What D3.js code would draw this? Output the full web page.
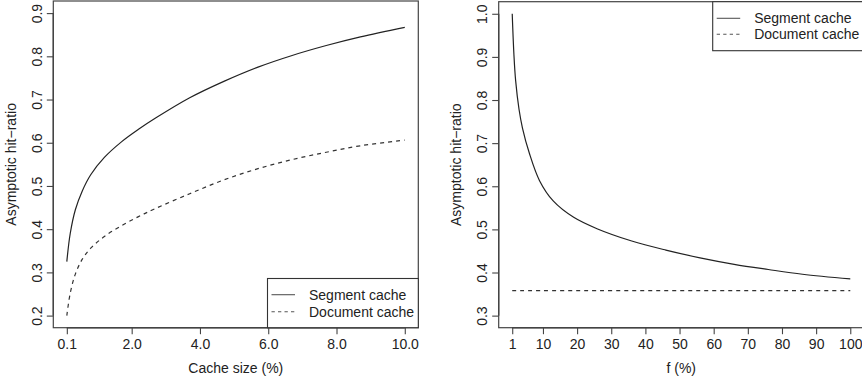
<!DOCTYPE html>
<html>
<head>
<meta charset="utf-8">
<script src="https://cdn.jsdelivr.net/npm/d3@7/dist/d3.min.js"></script>
<style>
  html, body { margin: 0; padding: 0; background: #fff; }
  svg { display: block; }
  text { font-family: "Liberation Sans", Arial, sans-serif; fill: #222; }
</style>
</head>
<body>
<svg id="chart" width="862" height="384"></svg>
<script>
// ---------- data ----------
const leftX        = [0.1, 0.2, 0.35, 0.55, 0.8, 1.2, 1.7, 2.2, 2.7, 3.7, 4.7, 5.7, 6.7, 7.7, 8.7, 10.0];
const leftSegment  = [0.325, 0.390, 0.445, 0.488, 0.526, 0.566, 0.602, 0.631, 0.657, 0.704, 0.742, 0.775, 0.802, 0.825, 0.845, 0.867];
const leftDocument = [0.200, 0.252, 0.296, 0.330, 0.356, 0.383, 0.408, 0.429, 0.448, 0.482, 0.514, 0.540, 0.561, 0.578, 0.593, 0.606];

const rightF        = [1, 1.5, 2, 3, 4, 6, 9, 13, 19, 26, 36, 46, 56, 66, 76, 86, 100];
const rightSegment  = [1.0, 0.905, 0.845, 0.778, 0.735, 0.677, 0.613, 0.566, 0.528, 0.501, 0.473, 0.452, 0.434, 0.419, 0.407, 0.396, 0.385];
const rightDocument = [0.358, 0.358, 0.358, 0.358, 0.358, 0.358, 0.358, 0.358, 0.358, 0.358, 0.358, 0.358, 0.358, 0.358, 0.358, 0.358, 0.358];

const leftXTicks   = [0.1, 2, 4, 6, 8, 10];
const leftXLabels  = ["0.1", "2.0", "4.0", "6.0", "8.0", "10.0"];
const leftYTicks   = [0.2, 0.3, 0.4, 0.5, 0.6, 0.7, 0.8, 0.9];
const rightXTicks  = [1, 10, 20, 30, 40, 50, 60, 70, 80, 90, 100];
const rightYTicks  = [0.3, 0.4, 0.5, 0.6, 0.7, 0.8, 0.9, 1.0];

const seriesNames  = ["Segment cache", "Document cache"];
const yTitle       = "Asymptotic hit\u2212ratio";
const leftXTitle   = "Cache size (%)";
const rightXTitle  = "f (%)";

// ---------- drawing ----------
const svg = d3.select("#chart");
svg.append("rect").attr("width", 862).attr("height", 384).attr("fill", "#fff");

function pad(lo, hi) { const p = (hi - lo) * 0.04; return [lo - p, hi + p]; }

function panel(opt) {
  const g = svg.append("g");
  const x = d3.scaleLinear().domain(pad(opt.xlim[0], opt.xlim[1])).range([opt.left, opt.right]);
  const y = d3.scaleLinear().domain(pad(opt.ylim[0], opt.ylim[1])).range([opt.bottom, opt.top]);

  const line = d3.line().x(d => x(d[0])).y(d => y(d[1])).curve(d3.curveCatmullRom.alpha(0.5));

  // curves
  g.append("path")
    .datum(opt.xs.map((v, i) => [v, opt.seg[i]]))
    .attr("d", line).attr("fill", "none")
    .attr("stroke", "#222").attr("stroke-width", 1.2);
  g.append("path")
    .datum(opt.xs.map((v, i) => [v, opt.doc[i]]))
    .attr("d", line).attr("fill", "none")
    .attr("stroke", "#333").attr("stroke-width", 1.2)
    .attr("stroke-dasharray", "4,4");

  // box
  g.append("rect")
    .attr("x", opt.left).attr("y", opt.top)
    .attr("width", opt.right - opt.left).attr("height", opt.bottom - opt.top)
    .attr("fill", "none").attr("stroke", "#444").attr("stroke-width", 1.2);

  // x axis
  const xa = g.append("g").attr("transform", `translate(0,${opt.bottom})`)
    .call(d3.axisBottom(x).tickValues(opt.xTicks).tickSize(6.5).tickSizeOuter(0)
      .tickFormat((d, i) => opt.xLabels ? opt.xLabels[i] : d3.format("d")(d)));
  xa.select(".domain").remove();
  xa.selectAll(".tick line").attr("stroke", "#444").attr("stroke-width", 1.1);
  xa.selectAll(".tick text").attr("y", 11.6).attr("dy", "0.72em")
    .style("font-family", "Liberation Sans, Arial, sans-serif").style("font-size", "14px").attr("fill", "#222");
  xa.append("line")
    .attr("x1", x(opt.xTicks[0])).attr("x2", x(opt.xTicks[opt.xTicks.length - 1]))
    .attr("stroke", "#444").attr("stroke-width", 1.4);

  // y axis
  const ya = g.append("g").attr("transform", `translate(${opt.left},0)`)
    .call(d3.axisLeft(y).tickValues(opt.yTicks).tickSize(6.5).tickSizeOuter(0).tickFormat(d3.format(".1f")));
  ya.select(".domain").remove();
  ya.selectAll(".tick line").attr("stroke", "#444").attr("stroke-width", 1.1);
  ya.selectAll(".tick text")
    .attr("x", null).attr("dy", null)
    .attr("text-anchor", "middle")
    .attr("transform", "translate(-11.6,0) rotate(-90)")
    .style("font-family", "Liberation Sans, Arial, sans-serif").style("font-size", "14px").attr("fill", "#222");
  ya.append("line")
    .attr("y1", y(opt.yTicks[0])).attr("y2", y(opt.yTicks[opt.yTicks.length - 1]))
    .attr("stroke", "#444").attr("stroke-width", 1.4);

  // titles
  g.append("text")
    .attr("transform", `translate(${opt.left - 37.3},${(opt.top + opt.bottom) / 2}) rotate(-90)`)
    .attr("text-anchor", "middle").style("font-size", "14px").text(yTitle);
  g.append("text")
    .attr("x", (opt.left + opt.right) / 2).attr("y", 373)
    .attr("text-anchor", "middle").style("font-size", "14px").text(opt.xTitle);

  // legend
  const L = opt.legend;
  g.append("rect")
    .attr("x", L.x).attr("y", L.y).attr("width", L.w).attr("height", L.h)
    .attr("fill", "#fff").attr("stroke", "#333").attr("stroke-width", 1.1);
  seriesNames.forEach((name, i) => {
    const yy = L.rows[i];
    g.append("line")
      .attr("x1", L.x + 4).attr("x2", L.x + 27.5).attr("y1", yy).attr("y2", yy)
      .attr("stroke", "#555").attr("stroke-width", 1.1)
      .attr("stroke-dasharray", i === 1 ? "3.3,3.2" : null);
    g.append("text")
      .attr("x", L.x + 41.5).attr("y", yy + 5)
      .style("font-size", "14px").text(name);
  });
}

panel({
  left: 53.3, right: 418.3, top: 1, bottom: 327.7,
  xlim: [0.1, 10], ylim: [0.2, 0.9],
  xs: leftX, seg: leftSegment, doc: leftDocument,
  xTicks: leftXTicks, xLabels: leftXLabels, yTicks: leftYTicks,
  xTitle: leftXTitle,
  legend: { x: 267.5, y: 278.5, w: 150.8, h: 49.2, rows: [294.7, 311.7] }
});

panel({
  left: 498.7, right: 863.8, top: 1.7, bottom: 327.7,
  xlim: [1, 100], ylim: [0.3, 1.0],
  xs: rightF, seg: rightSegment, doc: rightDocument,
  xTicks: rightXTicks, xLabels: null, yTicks: rightYTicks,
  xTitle: rightXTitle,
  legend: { x: 712.7, y: 1.7, w: 151, h: 49, rows: [18.3, 34.3] }
});
</script>
</body>
</html>
